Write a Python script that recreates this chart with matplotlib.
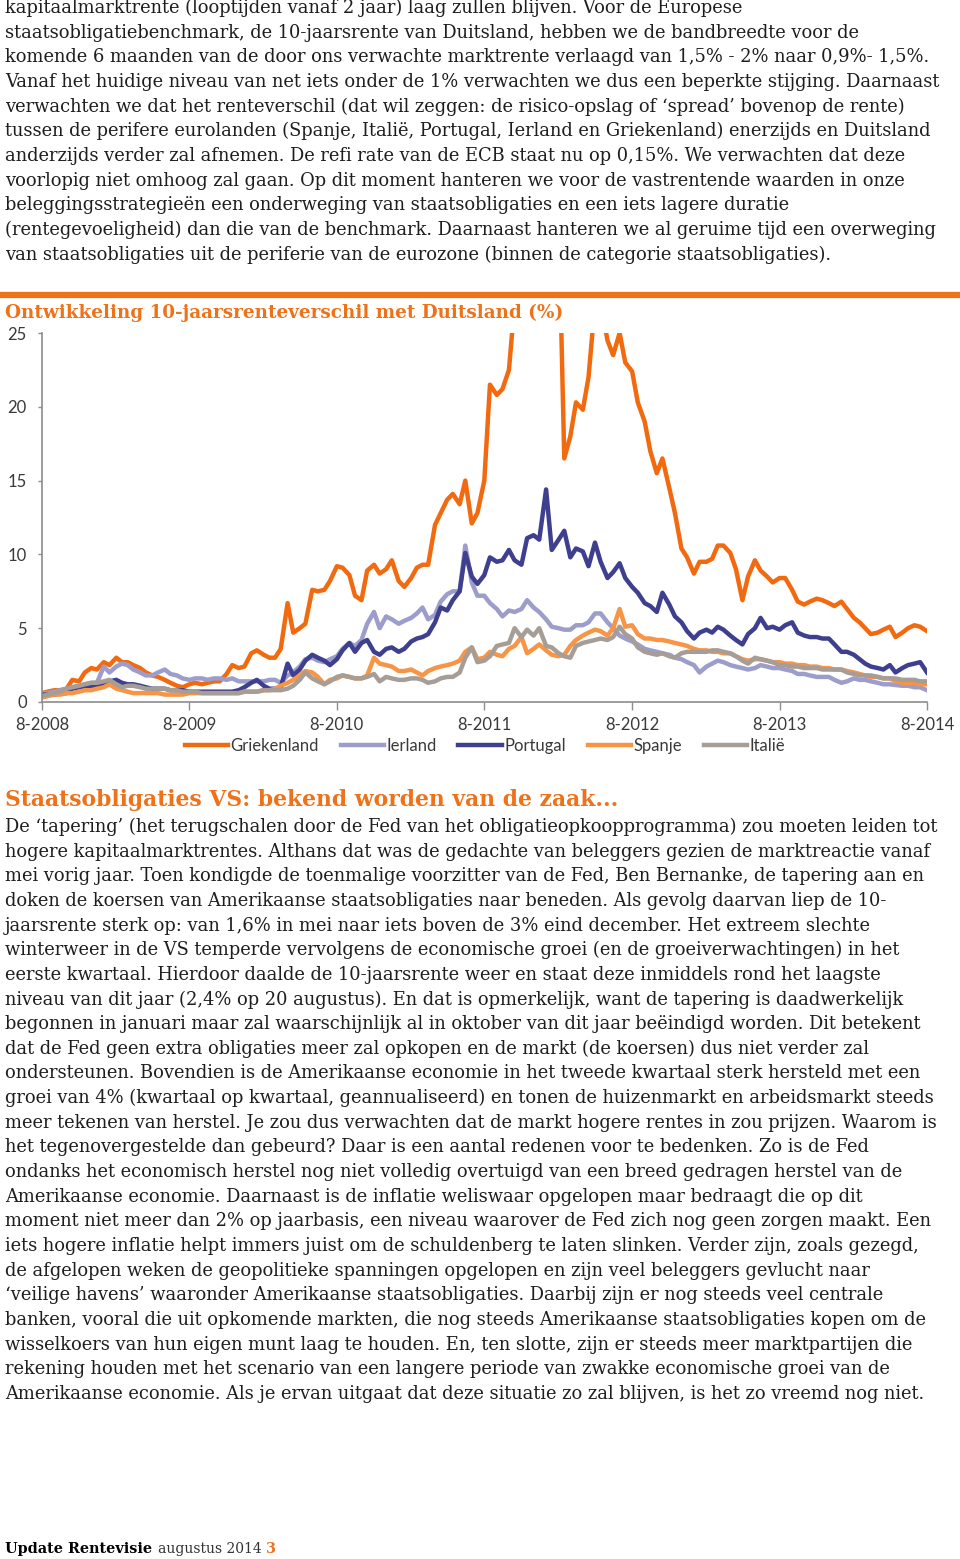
import matplotlib
matplotlib.use("Agg")
import matplotlib.pyplot as plt
import matplotlib.dates as mdates
import pandas as pd

# semi-monthly observations, aug 2008 - aug 2014
dates = pd.date_range("2008-08-01", "2014-08-01", freq="SMS")

griekenland = [
    0.6, 0.7, 0.8, 0.8, 0.9, 1.5, 1.4, 2.0, 2.3, 2.2,
    2.7, 2.5, 3.0, 2.7, 2.7, 2.5, 2.3, 2.0, 1.8, 1.7,
    1.5, 1.3, 1.1, 1.0, 1.2, 1.3, 1.2, 1.3, 1.4, 1.4,
    1.9, 2.5, 2.3, 2.4, 3.3, 3.5, 3.2, 3.0, 3.0, 3.6,
    6.7, 4.7, 5.0, 5.3, 7.6, 7.5, 7.6, 8.2, 9.2, 9.1,
    8.6, 7.2, 6.9, 8.9, 9.3, 8.7, 9.0, 9.6, 8.2, 7.8,
    8.4, 9.1, 9.3, 9.3, 12.0, 12.8, 13.7, 14.1, 13.4, 15.0,
    12.1, 12.8, 15.0, 21.5, 20.8, 21.2, 22.5, 27.0, 29.0, 31.0,
    32.0, 33.0, 34.0, 35.0, 33.0, 16.5, 18.0, 20.3, 19.8, 22.0,
    27.0, 27.0, 24.5, 23.5, 25.0, 23.0, 22.4, 20.3, 19.0, 17.0,
    15.5, 16.5, 14.5, 12.8, 10.4, 9.8, 8.7, 9.5, 9.5, 9.7,
    10.6, 10.6, 10.1, 9.0, 6.9, 8.5, 9.6, 8.9, 8.5, 8.1,
    8.4, 8.4, 7.6, 6.8, 6.6, 6.8, 7.0, 6.9, 6.7, 6.5,
    6.8, 6.3, 5.7, 5.4, 5.0, 4.6, 4.7, 4.9, 5.1, 4.4,
    4.7, 5.0, 5.2, 5.1, 4.8,
]
ierland = [
    0.6, 0.6, 0.7, 0.8, 0.9, 1.0, 1.1, 1.2, 1.3, 1.3,
    2.4, 2.0, 2.4, 2.6, 2.5, 2.2, 2.0, 1.8, 1.8, 2.0,
    2.2, 1.9, 1.8, 1.6, 1.5, 1.6, 1.6, 1.5, 1.6, 1.6,
    1.5, 1.6, 1.4, 1.4, 1.4, 1.4, 1.4, 1.5, 1.5, 1.3,
    1.8, 2.0, 2.4, 2.9, 3.0, 2.8, 2.7, 2.9, 3.1, 3.6,
    4.0, 3.8, 4.2, 5.3, 6.1, 5.0, 5.8, 5.6, 5.3, 5.5,
    5.7, 6.0, 6.4, 5.6, 5.9, 6.8, 7.3, 7.5, 7.5, 10.6,
    8.1, 7.2, 7.2, 6.7, 6.3, 5.8, 6.2, 6.1, 6.3, 6.9,
    6.4, 6.1, 5.6, 5.1, 5.0, 4.9, 4.9, 5.2, 5.2, 5.4,
    6.0, 6.0, 5.4, 5.0, 4.5, 4.3, 4.1, 3.9, 3.6, 3.5,
    3.4, 3.3, 3.2, 3.0, 2.9, 2.7, 2.5, 2.0, 2.4, 2.6,
    2.8, 2.7, 2.5, 2.4, 2.3, 2.2, 2.3, 2.5, 2.4, 2.3,
    2.3, 2.2, 2.1, 1.9, 1.9, 1.8, 1.7, 1.7, 1.7, 1.5,
    1.3, 1.4, 1.6, 1.5, 1.5, 1.4, 1.3, 1.2, 1.2, 1.15,
    1.1, 1.1, 1.0, 1.0, 0.8,
]
portugal = [
    0.5, 0.5, 0.5, 0.6, 0.6, 0.9, 1.0, 1.0, 1.1, 1.1,
    1.2, 1.4, 1.5, 1.3, 1.2, 1.2, 1.1, 1.0, 0.9, 0.9,
    0.9, 0.8, 0.8, 0.8, 0.7, 0.7, 0.7, 0.7, 0.7, 0.7,
    0.7, 0.7, 0.8, 1.0, 1.3, 1.5, 1.1, 0.9, 0.9, 1.0,
    2.6, 1.8, 2.2, 2.8, 3.2, 3.0, 2.8, 2.5, 2.9, 3.5,
    4.0, 3.4, 4.0, 4.2, 3.4, 3.2, 3.6, 3.7, 3.4, 3.6,
    4.1, 4.3, 4.4, 4.6, 5.4, 6.4, 6.2, 6.9, 7.5, 10.1,
    8.5, 8.0, 8.6, 9.8, 9.5, 9.6, 10.3, 9.6, 9.3, 11.1,
    11.3, 11.0, 14.4, 10.3, 11.0, 11.6, 9.8, 10.4, 10.2, 9.2,
    10.8, 9.5, 8.4, 8.8, 9.4, 8.4, 7.8, 7.4, 6.7, 6.5,
    6.1, 7.4, 6.6, 5.8, 5.4, 4.8, 4.3, 4.7, 4.9, 4.7,
    5.1, 4.9, 4.5, 4.2, 3.9, 4.6, 5.0, 5.7, 5.0, 5.1,
    4.9, 5.2, 5.4, 4.7, 4.5, 4.4, 4.4, 4.3, 4.3, 3.9,
    3.4, 3.4, 3.2, 2.9, 2.6, 2.4, 2.3, 2.2, 2.5, 2.0,
    2.3, 2.5, 2.6, 2.7, 2.0,
]
spanje = [
    0.3, 0.4, 0.5, 0.5, 0.6, 0.6, 0.7, 0.8, 0.8, 0.9,
    1.0, 1.2, 0.9, 0.8, 0.7, 0.6, 0.6, 0.6, 0.6, 0.6,
    0.5, 0.5, 0.5, 0.5, 0.6, 0.6, 0.6, 0.6, 0.6, 0.6,
    0.6, 0.6, 0.6, 0.7, 0.7, 0.7, 0.8, 0.8, 0.9, 1.1,
    1.3, 1.5, 1.8, 2.1, 2.0, 1.7, 1.2, 1.5, 1.6, 1.8,
    1.7, 1.6, 1.6, 1.8, 3.0, 2.6, 2.5, 2.4, 2.1, 2.1,
    2.2, 2.0, 1.8, 2.1, 2.3, 2.4, 2.5, 2.6, 2.8, 3.4,
    3.7, 2.9, 3.0, 3.4, 3.2, 3.1, 3.6, 3.8, 4.4, 3.3,
    3.6, 3.9, 3.5, 3.2, 3.1, 3.2, 3.8, 4.2, 4.5, 4.7,
    4.9, 4.8, 4.5, 5.0, 6.3, 5.1, 5.2, 4.6, 4.3, 4.3,
    4.2, 4.2, 4.1, 4.0, 3.9, 3.8, 3.6, 3.5, 3.5, 3.4,
    3.4, 3.3, 3.3, 3.1, 2.9, 2.8, 2.9, 2.9, 2.8, 2.7,
    2.7, 2.6, 2.6, 2.5, 2.5, 2.4, 2.4, 2.3, 2.3, 2.2,
    2.2, 2.1, 2.0, 1.9, 1.8, 1.7, 1.7, 1.6, 1.6, 1.4,
    1.3, 1.3, 1.3, 1.2, 1.2,
]
italie = [
    0.4, 0.5, 0.6, 0.7, 0.9, 1.0, 1.1, 1.2, 1.3, 1.3,
    1.4, 1.5, 1.2, 1.0, 1.1, 1.1, 1.0, 0.9, 0.9, 0.9,
    0.9, 0.8, 0.8, 0.7, 0.7, 0.7, 0.6, 0.6, 0.6, 0.6,
    0.6, 0.6, 0.6, 0.7, 0.7, 0.7, 0.8, 0.8, 0.8, 0.8,
    0.9, 1.1, 1.5, 2.0, 1.6, 1.4, 1.2, 1.4, 1.7, 1.8,
    1.7, 1.6, 1.6, 1.7, 1.9, 1.4, 1.7, 1.6, 1.5, 1.5,
    1.6, 1.6, 1.5, 1.3, 1.4, 1.6, 1.7, 1.7, 2.0, 3.0,
    3.7, 2.7, 2.8, 3.1, 3.8, 3.9, 4.0, 5.0, 4.4, 4.9,
    4.5, 5.0, 3.8, 3.7, 3.3, 3.1, 3.0, 3.8, 4.0, 4.1,
    4.2, 4.3, 4.2, 4.4, 5.1, 4.6, 4.3, 3.7, 3.4, 3.3,
    3.2, 3.3, 3.1, 3.0, 3.3, 3.4, 3.4, 3.4, 3.4, 3.5,
    3.5, 3.4, 3.3, 3.1, 2.8, 2.6, 3.0, 2.9, 2.8, 2.7,
    2.5, 2.5, 2.4, 2.4, 2.3, 2.3, 2.3, 2.2, 2.2, 2.2,
    2.2, 2.0, 1.9, 1.8, 1.8, 1.8, 1.7, 1.6, 1.6, 1.6,
    1.5, 1.5, 1.5, 1.4, 1.4,
]

series = [
    ("Griekenland", griekenland, "#f26a10"),
    ("Ierland", ierland, "#9d9dcc"),
    ("Portugal", portugal, "#3e3f8e"),
    ("Spanje", spanje, "#f79446"),
    ("Italië", italie, "#a69e96"),
]
xtick_years = [2008, 2009, 2010, 2011, 2012, 2013, 2014]
yticks = [0, 5, 10, 15, 20, 25]

intro = [
    "kapitaalmarktrente (looptijden vanaf 2 jaar) laag zullen blijven. Voor de Europese",
    "staatsobligatiebenchmark, de 10-jaarsrente van Duitsland, hebben we de bandbreedte voor de",
    "komende 6 maanden van de door ons verwachte marktrente verlaagd van 1,5% - 2% naar 0,9%- 1,5%.",
    "Vanaf het huidige niveau van net iets onder de 1% verwachten we dus een beperkte stijging. Daarnaast",
    "verwachten we dat het renteverschil (dat wil zeggen: de risico-opslag of \u2018spread\u2019 bovenop de rente)",
    "tussen de perifere eurolanden (Spanje, Italië, Portugal, Ierland en Griekenland) enerzijds en Duitsland",
    "anderzijds verder zal afnemen. De refi rate van de ECB staat nu op 0,15%. We verwachten dat deze",
    "voorlopig niet omhoog zal gaan. Op dit moment hanteren we voor de vastrentende waarden in onze",
    "beleggingsstrategieën een onderweging van staatsobligaties en een iets lagere duratie",
    "(rentegevoeligheid) dan die van de benchmark. Daarnaast hanteren we al geruime tijd een overweging",
    "van staatsobligaties uit de periferie van de eurozone (binnen de categorie staatsobligaties).",
]
body = [
    "De \u2018tapering\u2019 (het terugschalen door de Fed van het obligatieopkoopprogramma) zou moeten leiden tot",
    "hogere kapitaalmarktrentes. Althans dat was de gedachte van beleggers gezien de marktreactie vanaf",
    "mei vorig jaar. Toen kondigde de toenmalige voorzitter van de Fed, Ben Bernanke, de tapering aan en",
    "doken de koersen van Amerikaanse staatsobligaties naar beneden. Als gevolg daarvan liep de 10-",
    "jaarsrente sterk op: van 1,6% in mei naar iets boven de 3% eind december. Het extreem slechte",
    "winterweer in de VS temperde vervolgens de economische groei (en de groeiverwachtingen) in het",
    "eerste kwartaal. Hierdoor daalde de 10-jaarsrente weer en staat deze inmiddels rond het laagste",
    "niveau van dit jaar (2,4% op 20 augustus). En dat is opmerkelijk, want de tapering is daadwerkelijk",
    "begonnen in januari maar zal waarschijnlijk al in oktober van dit jaar beëindigd worden. Dit betekent",
    "dat de Fed geen extra obligaties meer zal opkopen en de markt (de koersen) dus niet verder zal",
    "ondersteunen. Bovendien is de Amerikaanse economie in het tweede kwartaal sterk hersteld met een",
    "groei van 4% (kwartaal op kwartaal, geannualiseerd) en tonen de huizenmarkt en arbeidsmarkt steeds",
    "meer tekenen van herstel. Je zou dus verwachten dat de markt hogere rentes in zou prijzen. Waarom is",
    "het tegenovergestelde dan gebeurd? Daar is een aantal redenen voor te bedenken. Zo is de Fed",
    "ondanks het economisch herstel nog niet volledig overtuigd van een breed gedragen herstel van de",
    "Amerikaanse economie. Daarnaast is de inflatie weliswaar opgelopen maar bedraagt die op dit",
    "moment niet meer dan 2% op jaarbasis, een niveau waarover de Fed zich nog geen zorgen maakt. Een",
    "iets hogere inflatie helpt immers juist om de schuldenberg te laten slinken. Verder zijn, zoals gezegd,",
    "de afgelopen weken de geopolitieke spanningen opgelopen en zijn veel beleggers gevlucht naar",
    "\u2018veilige havens\u2019 waaronder Amerikaanse staatsobligaties. Daarbij zijn er nog steeds veel centrale",
    "banken, vooral die uit opkomende markten, die nog steeds Amerikaanse staatsobligaties kopen om de",
    "wisselkoers van hun eigen munt laag te houden. En, ten slotte, zijn er steeds meer marktpartijen die",
    "rekening houden met het scenario van een langere periode van zwakke economische groei van de",
    "Amerikaanse economie. Als je ervan uitgaat dat deze situatie zo zal blijven, is het zo vreemd nog niet.",
]

W, H = 960, 1559
ORANGE = "#ee7219"
TXT = "#1e1e1e"
fig = plt.figure(figsize=(W / 100, H / 100), dpi=100)
rend = fig.canvas.get_renderer()


def fy(py):
    return 1 - py / H


def fit(text, target, **kw):
    t = fig.text(0, 0, text, fontsize=10, **kw)
    w = t.get_window_extent(rend).width
    t.remove()
    return 10 * target / w


body_font = ["DejaVu Serif"]
body_size = fit(intro[3], 945, family=body_font)

for i, line in enumerate(intro):
    fig.text(5 / W, fy(8 + i * 24.65), line, fontsize=body_size, family=body_font,
             color=TXT, va="center", ha="left")

for i, line in enumerate(body):
    fig.text(5 / W, fy(827 + i * 24.65), line, fontsize=body_size, family=body_font,
             color=TXT, va="center", ha="left")

# orange rule above chart
fig.add_artist(plt.Line2D([0, 1], [fy(295), fy(295)], color=ORANGE, lw=4.5,
                          transform=fig.transFigure))

title = "Ontwikkeling 10-jaarsrenteverschil met Duitsland (%)"
fig.text(5 / W, fy(313), title, color=ORANGE, weight="bold", family="DejaVu Serif",
         fontsize=fit(title, 558, family="DejaVu Serif", weight="bold"),
         va="center", ha="left")

head2 = "Staatsobligaties VS: bekend worden van de zaak..."
fig.text(5 / W, fy(800), head2, color=ORANGE, weight="bold", family="DejaVu Serif",
         fontsize=fit(head2, 615, family="DejaVu Serif", weight="bold"),
         va="center", ha="left")

# footer
foot_size = fit("Update Rentevisie", 147, family="DejaVu Serif", weight="bold")
fig.text(5 / W, fy(1549), "Update Rentevisie", color="black", weight="bold",
         family="DejaVu Serif", fontsize=foot_size, va="center", ha="left")
fig.text(158 / W, fy(1549), "augustus 2014", color="#333333", family="DejaVu Serif",
         fontsize=fit("augustus 2014", 104, family="DejaVu Serif"), va="center", ha="left")
fig.text(266 / W, fy(1549), "3", color=ORANGE, weight="bold", family="DejaVu Serif",
         fontsize=foot_size, va="center", ha="left")

# chart
ax = fig.add_axes([42 / W, fy(702), (927 - 42) / W, (702 - 333) / H])
for name, vals, col in series:
    ax.plot(dates, vals, color=col, lw=3.2, label=name, solid_joinstyle="round")

ax.set_ylim(0, 25)
ax.set_xlim(pd.Timestamp("2008-08-01"), pd.Timestamp("2014-08-01"))
ax.set_yticks(yticks)
ax.set_xticks([pd.Timestamp(f"{y}-08-01") for y in xtick_years])
ax.xaxis.set_major_formatter(mdates.DateFormatter("%-m-%Y"))

tick_family = ["Lato", "DejaVu Sans"]
for lab in ax.get_xticklabels() + ax.get_yticklabels():
    lab.set_fontfamily(tick_family)
    lab.set_fontweight("normal")
    lab.set_fontsize(12)
    lab.set_color("#3a3a3a")

ax.tick_params(axis="x", length=6, width=1, color="#8c8c8c", pad=5)
ax.tick_params(axis="y", length=3, width=1, color="#8c8c8c", pad=8)
for s in ["top", "right"]:
    ax.spines[s].set_visible(False)
for s in ["left", "bottom"]:
    ax.spines[s].set_color("#8c8c8c")
    ax.spines[s].set_linewidth(1.2)

leg = ax.legend(loc="center", bbox_to_anchor=(485 / W, fy(746)),
                bbox_transform=fig.transFigure, ncol=5, frameon=False,
                handlelength=2.6, handletextpad=0.15, columnspacing=1.3,
                prop={"family": tick_family, "weight": "normal", "size": 12})
for t in leg.get_texts():
    t.set_color("#3a3a3a")

fig.savefig("out.png", dpi=100, facecolor="white")
